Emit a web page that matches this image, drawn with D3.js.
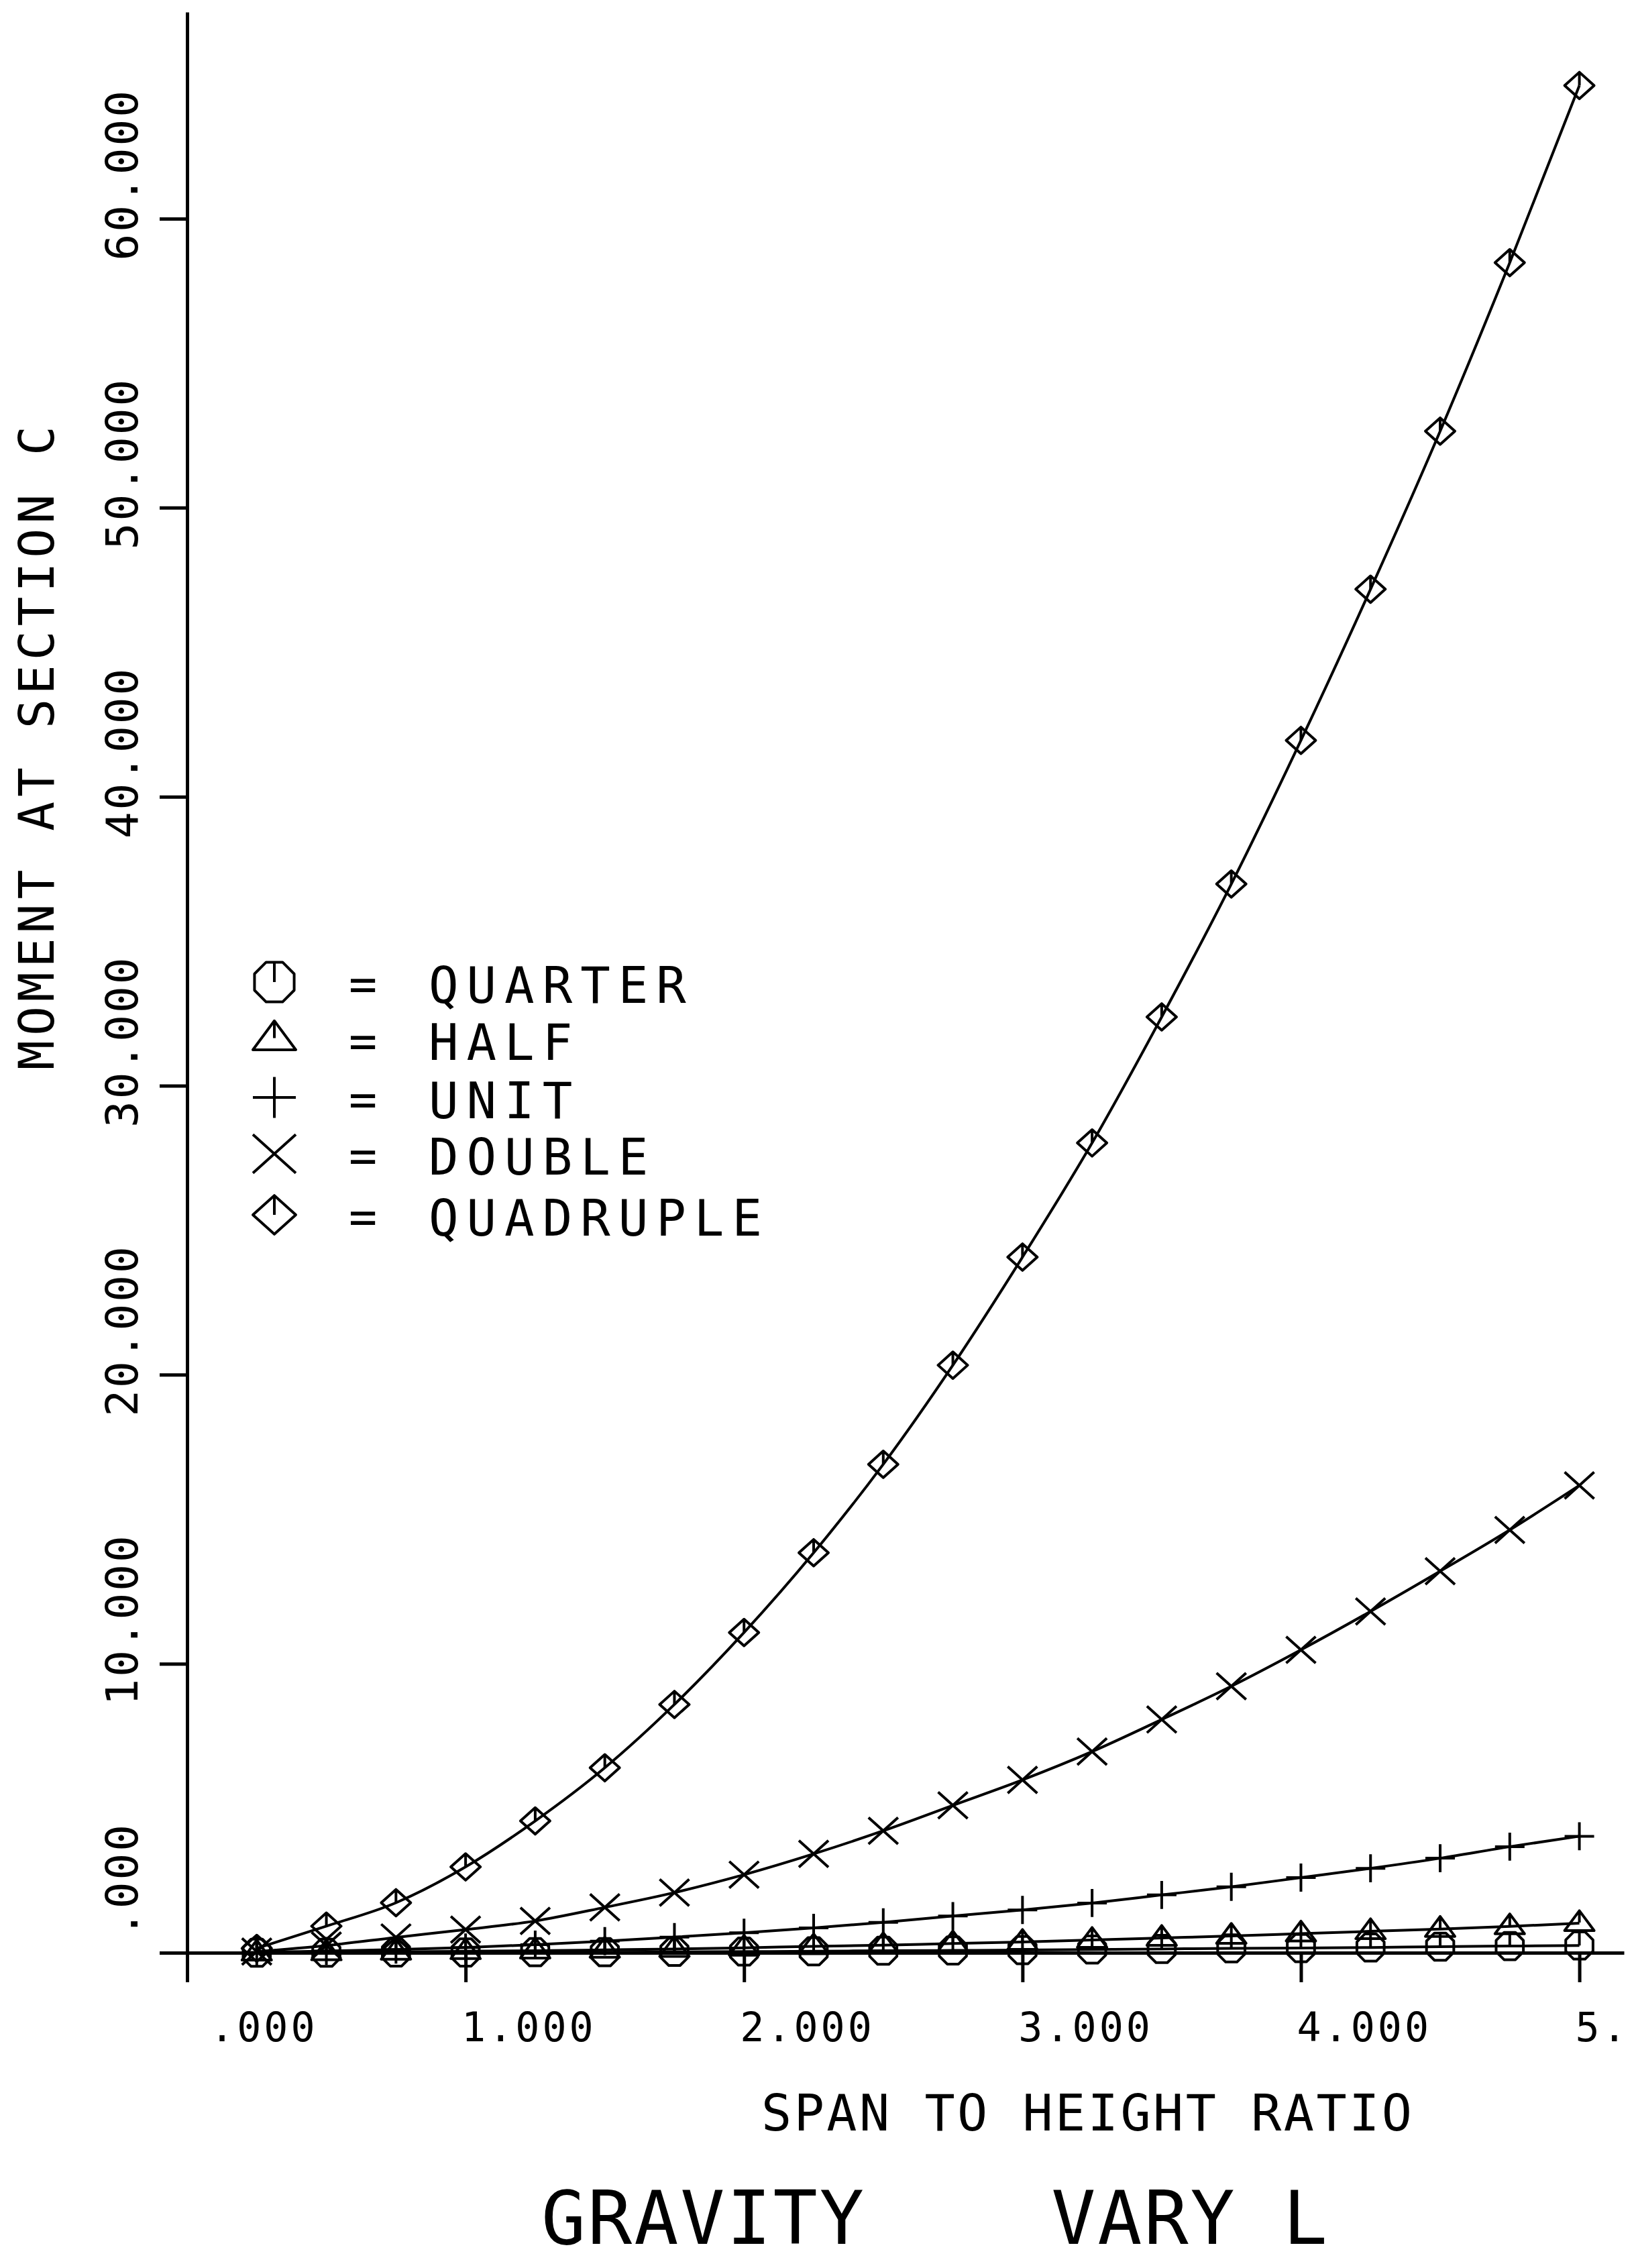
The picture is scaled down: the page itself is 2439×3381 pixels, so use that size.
<!DOCTYPE html>
<html>
<head>
    <title>Gravity - vary L</title>
    <script src="https://d3js.org/d3.v7.min.js"></script>
    <style>
        body { margin: 0; background: #fff; }
        svg { display: block; background: #fff; }
        text {
            font-family: "DejaVu Sans Mono", "Liberation Mono", monospace;
            fill: #000;
            white-space: pre;
        }
        .series-line { fill: none; stroke: #000; stroke-width: 4px; }
        .marker { fill: none; stroke: #000; stroke-width: 4px; stroke-linejoin: round; }
    </style>
</head>
<body>
    <svg></svg>
    <script>
        // data (span to height ratio vs moment)
        const spanRatio = [0.25, 0.5, 0.75, 1.0, 1.25, 1.5, 1.75, 2.0, 2.25, 2.5,
                           2.75, 3.0, 3.25, 3.5, 3.75, 4.0, 4.25, 4.5, 4.75, 5.0];

        const quarter   = [0.0, 0.0, 0.01, 0.01, 0.02, 0.02, 0.03, 0.04, 0.05, 0.07,
                           0.08, 0.09, 0.11, 0.13, 0.15, 0.16, 0.18, 0.21, 0.23, 0.25];
        const half      = [0.0, 0.01, 0.03, 0.05, 0.07, 0.10, 0.13, 0.17, 0.22, 0.26,
                           0.32, 0.37, 0.44, 0.51, 0.58, 0.66, 0.74, 0.82, 0.91, 1.02];
        const unit      = [0.01, 0.06, 0.11, 0.18, 0.28, 0.40, 0.54, 0.69, 0.86, 1.05,
                           1.27, 1.48, 1.72, 2.00, 2.28, 2.60, 2.92, 3.27, 3.67, 4.03];
        const double    = [0.04, 0.25, 0.53, 0.80, 1.10, 1.57, 2.08, 2.70, 3.42, 4.22,
                           5.10, 5.98, 6.96, 8.07, 9.22, 10.48, 11.81, 13.20, 14.63, 16.17];
        const quadruple = [0.15, 0.92, 1.73, 2.97, 4.56, 6.40, 8.59, 11.08, 13.84, 16.90,
                           20.33, 24.07, 28.02, 32.38, 36.98, 41.95, 47.18, 52.65, 58.48, 64.61];

        const seriesNames = ["QUARTER", "HALF", "UNIT", "DOUBLE", "QUADRUPLE"];
        const seriesSymbols = ["octagon", "triangle", "plus", "cross", "diamond"];
        const seriesValues = [quarter, half, unit, double, quadruple];

        const xTicks = [0, 1, 2, 3, 4, 5];
        // the last label runs off the right edge of the sheet, only "5." shows
        const xTickLabels = [" .000", "1.000", "2.000", "3.000", "4.000", "5."];
        const yTicks = [0, 10, 20, 30, 40, 50, 60];
        const yTickLabels = [".000", "10.000", "20.000", "30.000", "40.000", "50.000", "60.000"];

        const titleText = "GRAVITY    VARY L";
        const xTitle = "SPAN TO HEIGHT RATIO";
        const yTitle = "MOMENT AT SECTION C";

        // page setup
        const width = 2439;
        const height = 3381;

        const svg = d3.select("svg")
            .attr("width", width)
            .attr("height", height);

        const x = d3.scaleLinear().domain([0, 5.16]).range([279, 2421]);
        const y = d3.scaleLinear().domain([0, 67.15]).range([2911, 18]);

        // axes
        const xAxis = svg.append("g")
            .attr("transform", `translate(0,${y(0)})`)
            .call(d3.axisBottom(x).tickValues(xTicks).tickSize(44).tickSizeOuter(0).tickFormat(""));
        const yAxis = svg.append("g")
            .attr("transform", `translate(${x(0)},0)`)
            .call(d3.axisLeft(y).tickValues(yTicks).tickSize(41).tickSizeOuter(0).tickFormat(""));
        [xAxis, yAxis].forEach(a => {
            a.selectAll("path, line").attr("stroke", "#000").attr("stroke-width", 5);
        });

        // x tick labels
        svg.append("g").selectAll("text")
            .data(xTicks)
            .join("text")
            .attr("x", d => x(d) - 6)
            .attr("y", 3043)
            .attr("font-size", 60)
            .attr("letter-spacing", 4)
            .text((d, i) => xTickLabels[i]);

        // y tick labels, rotated
        svg.append("g").selectAll("text")
            .data(yTicks)
            .join("text")
            .attr("transform", d => `translate(205,${y(d) - 194}) rotate(-90)`)
            .attr("text-anchor", "end")
            .attr("font-size", 66)
            .attr("letter-spacing", 3)
            .text((d, i) => yTickLabels[i]);

        // axis titles
        svg.append("text")
            .attr("transform", "translate(80,1595) rotate(-90)")
            .attr("font-size", 73)
            .attr("textLength", 960)
            .attr("lengthAdjust", "spacing")
            .text(yTitle);

        svg.append("text")
            .attr("x", 1135)
            .attr("y", 3176)
            .attr("font-size", 75)
            .attr("textLength", 970)
            .attr("lengthAdjust", "spacing")
            .text(xTitle);

        svg.append("text")
            .attr("x", 807)
            .attr("y", 3345)
            .attr("font-size", 110)
            .attr("textLength", 1172)
            .attr("lengthAdjust", "spacing")
            .text(titleText);

        // plotter style symbols
        function markerPath(kind, r) {
            if (kind === "octagon") {
                const pts = d3.range(8).map(k => {
                    const a = (22.5 + 45 * k) * Math.PI / 180;
                    return [r * Math.cos(a), r * Math.sin(a)];
                });
                return "M" + pts.map(p => p.join(",")).join("L") + "Z" +
                    `M0,${-r * 0.92}L0,0`;
            }
            if (kind === "triangle") {
                return `M0,${-r * 0.85}L${r},${r * 0.5}L${-r},${r * 0.5}Z` +
                    `M0,${-r * 0.85}L0,${-r * 0.05}`;
            }
            if (kind === "plus") {
                return `M${-r},0L${r},0M0,${-r * 0.95}L0,${r * 0.95}`;
            }
            if (kind === "cross") {
                return `M${-r},${-r * 0.9}L${r},${r * 0.9}M${-r},${r * 0.9}L${r},${-r * 0.9}`;
            }
            // diamond
            return `M0,${-r * 0.9}L${r},0L0,${r * 0.9}L${-r},0Z` +
                `M0,${-r * 0.9}L0,0`;
        }

        // series lines and markers
        const line = d3.line()
            .x(d => x(d[0]))
            .y(d => y(d[1]))
            .curve(d3.curveMonotoneX);

        seriesValues.forEach((vals, s) => {
            const pts = spanRatio.map((v, i) => [v, vals[i]]);
            svg.append("path")
                .attr("class", "series-line")
                .attr("d", line(pts));
            svg.append("g").selectAll("path")
                .data(pts)
                .join("path")
                .attr("class", "marker")
                .attr("transform", d => `translate(${x(d[0])},${y(d[1])})`)
                .attr("d", markerPath(seriesSymbols[s], 22));
        });

        // legend
        const legendBase = [1495, 1580, 1667, 1751, 1842];
        const legend = svg.append("g").selectAll("g")
            .data(seriesNames)
            .join("g");

        legend.append("path")
            .attr("class", "marker")
            .attr("transform", (d, i) => `translate(409,${legendBase[i] - 31})`)
            .attr("d", (d, i) => markerPath(seriesSymbols[i], 32));

        legend.append("text")
            .attr("x", 541)
            .attr("y", (d, i) => legendBase[i] - 4)
            .attr("text-anchor", "middle")
            .attr("font-size", 70)
            .text("=");

        legend.append("text")
            .attr("x", 639)
            .attr("y", (d, i) => legendBase[i])
            .attr("font-size", 74)
            .attr("letter-spacing", 12)
            .text(d => d);
    </script>
</body>
</html>
